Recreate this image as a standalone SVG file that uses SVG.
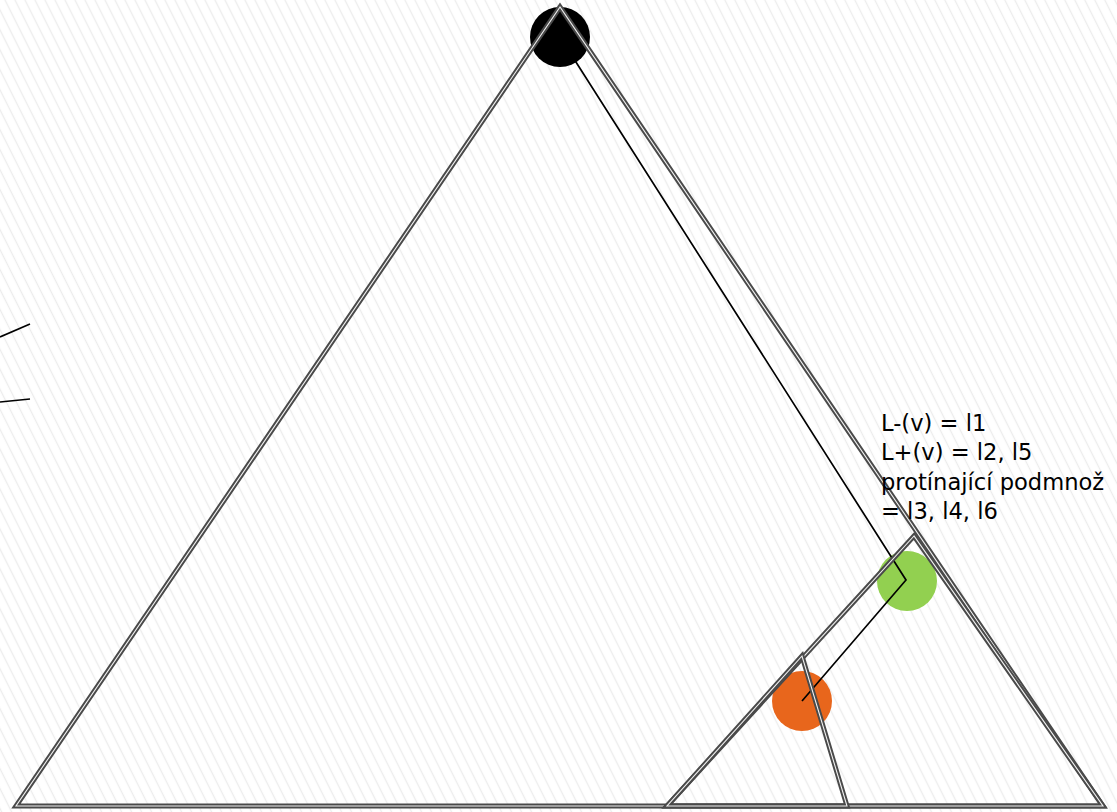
<svg xmlns="http://www.w3.org/2000/svg" width="1117" height="812" viewBox="0 0 1117 812">
<defs>
<pattern id="hatch" width="8.94" height="10" patternUnits="userSpaceOnUse" patternTransform="rotate(-26.6)">
<rect width="8.94" height="10" fill="#ffffff"/>
<line x1="4.47" y1="-1" x2="4.47" y2="11" stroke="#ececec" stroke-width="1.3"/>
</pattern>
</defs>
<style>
.tri-o{fill:none;stroke:#4a4a4a;stroke-width:5;stroke-linejoin:miter}
.tri-i{fill:none;stroke:#f2f2f2;stroke-width:1.1}
.conn{fill:none;stroke:#000000;stroke-width:1.7}
.lbl{font-family:"DejaVu Sans",sans-serif;font-size:22.6px;fill:#000000}
</style>
<rect x="0" y="0" width="1117" height="812" fill="url(#hatch)"/>
<g id="node-root"><circle cx="560" cy="37" r="30" fill="#000000"/></g>
<g id="node-green"><circle cx="907" cy="581" r="30" fill="#92d050"/></g>
<g id="node-orange"><circle cx="802" cy="701" r="30" fill="#e8661c"/></g>
<g id="connectors">
<polyline class="conn" points="560,37 906,580 802,701"/>
<line class="conn" x1="0" y1="337" x2="30" y2="324"/>
<line class="conn" x1="0" y1="402" x2="30" y2="399"/>
</g>
<g id="triangles">
<polygon class="tri-o" points="560,7 16,806 1103,806"/>
<polygon class="tri-i" points="560,7 16,806 1103,806"/>
<polygon class="tri-o" points="914,536 667,806 1103,806"/>
<polygon class="tri-i" points="914,536 667,806 1103,806"/>
<polygon class="tri-o" points="802,656 667,806 847,806"/>
<polygon class="tri-i" points="802,656 667,806 847,806"/>
</g>
<g id="label">
<text class="lbl" x="881" y="430.5">L-(v) = l1</text>
<text class="lbl" x="881" y="460">L+(v) = l2, l5</text>
<text class="lbl" x="881" y="489.5">protínající podmnož</text>
<text class="lbl" x="881" y="519">= l3, l4, l6</text>
</g>
</svg>
